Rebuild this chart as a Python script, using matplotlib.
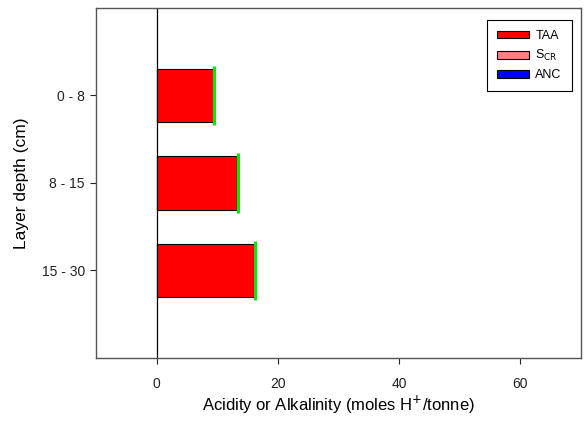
import numpy as np
import matplotlib.pyplot as plt
from matplotlib.patches import Patch

plt.rcParams['font.family'] = ['Liberation Sans', 'DejaVu Sans']

layers = ['0 - 8', '8 - 15', '15 - 30']
taa = [9.4, 13.3, 16.1]
scr = [0, 0, 0]
anc = [0, 0, 0]
net = [9.55, 13.5, 16.3]

pos = np.arange(1, len(layers) + 1)

fig = plt.figure(figsize=(5.85, 4.21), dpi=100)
ax = fig.add_axes([0.164, 0.150, 0.829, 0.831])

ax.barh(pos, taa, height=0.61, color='#ff0000', edgecolor='black', lw=0.8, zorder=2)
ax.barh(pos, scr, left=taa, height=0.61, color='#ff8080', edgecolor='black', lw=0.8, zorder=2)
ax.barh(pos, [-a for a in anc], height=0.61, color='#0000ff', edgecolor='black', lw=0.8, zorder=2)
ax.vlines(net, pos - 0.34, pos + 0.34, color='#00ee00', lw=2.2, zorder=3)
ax.axvline(0, color='black', lw=0.9, zorder=1)

ax.set_xlim(-10, 70)
ax.set_ylim(4, 0)
ax.set_xticks([0, 20, 40, 60])
ax.set_yticks(pos)
ax.set_yticklabels(layers)
ax.tick_params(labelsize=10, length=4, width=0.8, colors='#222222')
ax.tick_params(axis='x', pad=10)
ax.tick_params(axis='y', pad=4)
for s in ax.spines.values():
    s.set_color('#555555')
    s.set_linewidth(1)

ax.set_xlabel('Acidity or Alkalinity (moles H$^{+}$/tonne)', fontsize=12, labelpad=2)
ax.set_ylabel('Layer depth (cm)', fontsize=12.5, labelpad=9)

handles = [Patch(facecolor='#ff0000', edgecolor='black', lw=0.8),
           Patch(facecolor='#ff8080', edgecolor='black', lw=0.8),
           Patch(facecolor='#0000ff', edgecolor='black', lw=0.8)]
leg = ax.legend(handles, ['TAA', 'S$_{\\mathrm{CR}}$', 'ANC'], loc='upper right',
                bbox_to_anchor=(0.981, 0.966), borderaxespad=0,
                fontsize=9, fancybox=False, framealpha=1, edgecolor='black',
                handlelength=2.6, handleheight=0.6, handletextpad=0.5,
                labelspacing=0.5, borderpad=0.8)
leg.get_frame().set_linewidth(0.8)

fig.savefig('out.png', dpi=100)
